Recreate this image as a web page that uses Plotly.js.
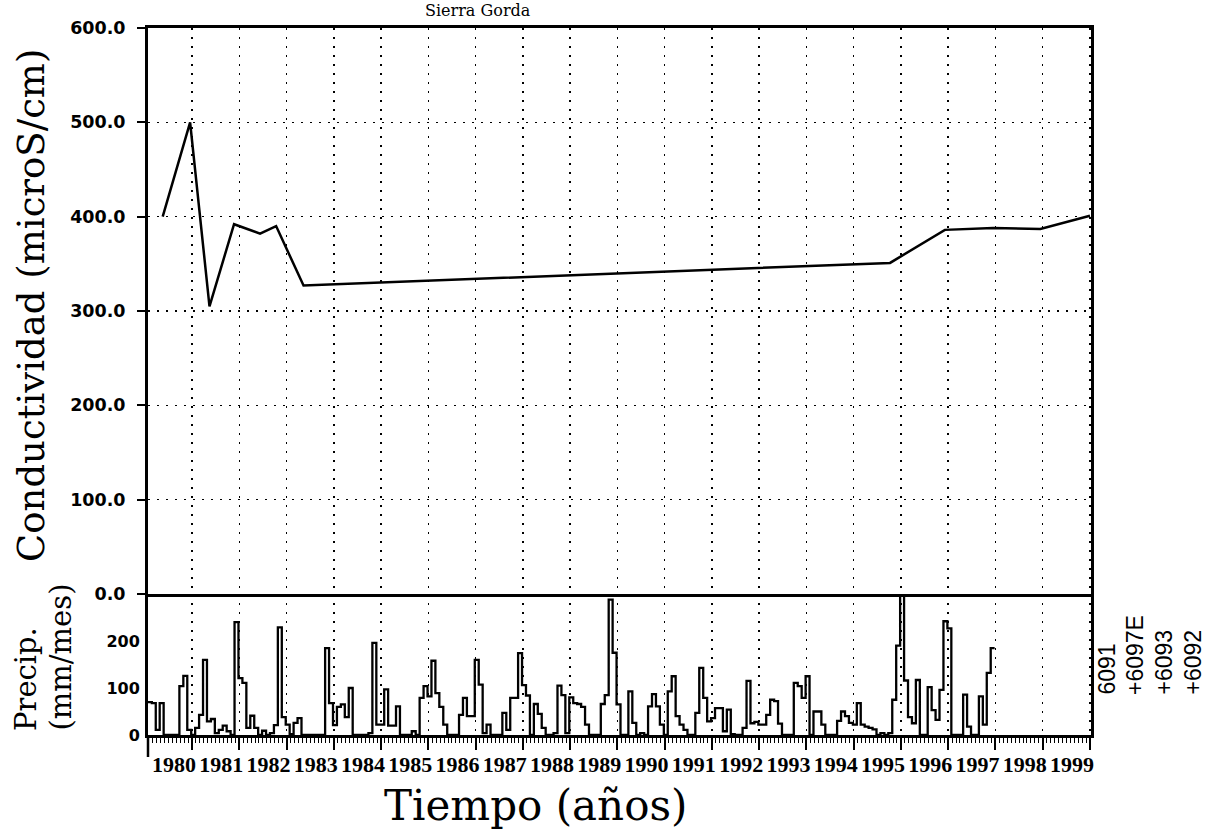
<!DOCTYPE html>
<html><head><meta charset="utf-8">
<script src="https://cdn.plot.ly/plotly-3.0.1.min.js"></script>
<style>body{margin:0;background:#fff}#chart{width:1209px;height:833px}</style>
</head><body><div id="chart"></div>
<script>
const chartTitle = 'Sierra Gorda';
const yTitleTop = 'Conductividad (microS/cm)';
const yTitleBottom1 = 'Precip.';
const yTitleBottom2 = '(mm/mes)';
const xTitle = 'Tiempo (años)';

// conductivity series (decimal years on the chart's own time axis)
const condYears  = [1979.38, 1979.96, 1980.37, 1980.89, 1981.44, 1981.78, 1982.36, 1994.77, 1995.93, 1996.95, 1997.95, 1999.0];
const condValues = [400, 500, 305, 392, 382, 390, 327, 351, 386, 388, 387, 401];

// monthly precipitation, first value = January 1979
const precipStartYear = 1979;
const precipValues = [
  70, 68, 11, 68, 0, 0, 0, 0, 104, 126, 11, 0,
  15, 43, 160, 29, 34, 4, 11, 20, 8, 0, 240, 121,
  111, 15, 41, 15, 0, 9, 0, 4, 21, 229, 38, 22,
  2, 26, 36, 0, 0, 0, 0, 0, 0, 185, 68, 21,
  60, 65, 38, 100, 0, 0, 0, 0, 4, 196, 22, 22,
  97, 20, 20, 61, 0, 0, 0, 8, 0, 79, 104, 82,
  158, 89, 60, 22, 0, 0, 0, 43, 79, 40, 40, 160,
  107, 4, 22, 0, 0, 0, 47, 11, 79, 79, 174, 106,
  84, 0, 66, 45, 15, 0, 0, 4, 105, 85, 4, 80,
  68, 66, 60, 22, 0, 0, 0, 66, 85, 288, 175, 65,
  0, 0, 93, 26, 0, 4, 0, 61, 87, 61, 22, 0,
  93, 125, 40, 22, 11, 0, 0, 47, 143, 79, 29, 36,
  57, 57, 8, 54, 2, 0, 0, 15, 115, 25, 28, 22,
  22, 43, 75, 72, 24, 0, 0, 0, 111, 104, 79, 125,
  0, 50, 50, 22, 0, 0, 0, 30, 50, 40, 26, 22,
  68, 22, 18, 15, 12, 0, 4, 0, 4, 75, 190, 300,
  116, 38, 25, 117, 0, 0, 102, 53, 32, 96, 242, 227,
  0, 0, 0, 86, 18, 0, 0, 82, 22, 132, 185
];

const yearTicks = [1980,1981,1982,1983,1984,1985,1986,1987,1988,1989,1990,1991,1992,1993,1994,1995,1996,1997,1998,1999];
const condTicks = [0,100,200,300,400,500,600];
const precipTicks = [0,100,200];
const stationLabels = ['6091', '+6097E', '+6093', '+6092'];

const monthOffset = 0.8;
const px = precipValues.map((v, i) => precipStartYear + (i + monthOffset) / 12);
const py = precipValues.slice();
px.push(precipStartYear + (precipValues.length + monthOffset) / 12);
py.push(precipValues[precipValues.length - 1]);

const W = 1209, H = 833;
const L = 148, R = 1091, T = 28, B = 735, MID = 594;
const xRange = [1979.069, 1999.022];
const splitFrac = (B - MID) / (B - T);
const toXp = x => (x - L) / (R - L);
const toYp = y => (B - y) / (B - T);

const gridDash = '2px,7px';
const serif = 'DejaVu Serif';

const traces = [
  {x: condYears, y: condValues, xaxis: 'x2', yaxis: 'y', mode: 'lines',
   line: {color: '#000', width: 2.5}, showlegend: false},
  {x: px, y: py, xaxis: 'x', yaxis: 'y2', mode: 'lines',
   line: {color: '#000', width: 2.3, shape: 'hv'}, showlegend: false}
];

const annotations = [
  {text: chartTitle, xref: 'paper', yref: 'paper', x: toXp(478), y: toYp(10),
   showarrow: false, xanchor: 'center', yanchor: 'middle',
   font: {family: serif, size: 16, color: '#000'}},
  {text: yTitleTop, xref: 'paper', yref: 'paper', x: toXp(31), y: toYp(306),
   textangle: -90, showarrow: false, xanchor: 'center', yanchor: 'middle',
   font: {family: serif, size: 37, color: '#000'}},
  {text: yTitleBottom1, xref: 'paper', yref: 'paper', x: toXp(26), y: toYp(733),
   textangle: -90, showarrow: false, xanchor: 'center', yanchor: 'bottom',
   font: {family: serif, size: 29, color: '#000'}},
  {text: yTitleBottom2, xref: 'paper', yref: 'paper', x: toXp(60), y: toYp(733),
   textangle: -90, showarrow: false, xanchor: 'center', yanchor: 'bottom',
   font: {family: serif, size: 29, color: '#000'}},
  {text: xTitle, xref: 'paper', yref: 'paper', x: toXp(535), y: toYp(805),
   showarrow: false, xanchor: 'center', yanchor: 'middle',
   font: {family: serif, size: 42, color: '#000'}}
];
const stationX = [1106, 1135, 1163, 1192];
stationLabels.forEach((s, i) => annotations.push({
  text: s, xref: 'paper', yref: 'paper', x: toXp(stationX[i]), y: toYp(697),
  textangle: -90, showarrow: false, xanchor: 'center', yanchor: 'bottom',
  font: {family: 'Liberation Sans', size: 23, color: '#000'}
}));

const layout = {
  width: W, height: H,
  margin: {l: L, r: W - R, t: T, b: H - B, pad: 0},
  paper_bgcolor: '#fff', plot_bgcolor: '#fff',
  showlegend: false,
  xaxis: {
    domain: [0, 1], anchor: 'y2', range: xRange,
    tickmode: 'array', tickvals: yearTicks, ticktext: yearTicks.map(String),
    ticks: 'outside', ticklen: 12, tickwidth: 2, tickcolor: '#000',
    ticklabelshift: -18, ticklabelstandoff: -4,
    tickfont: {family: 'Liberation Serif', size: 22, weight: 'bold', color: '#000'},
    showline: true, linewidth: 3, linecolor: '#000', mirror: false,
    showgrid: true, gridcolor: '#000', gridwidth: 1.5, griddash: gridDash,
    zeroline: false,
    minor: {tickmode: 'linear', tick0: precipStartYear, dtick: 1 / 12, ticks: 'outside',
            ticklen: 5, tickwidth: 1, tickcolor: '#000', showgrid: false}
  },
  xaxis2: {
    domain: [0, 1], anchor: 'y', matches: 'x', range: xRange,
    tickmode: 'array', tickvals: yearTicks, showticklabels: false, ticks: '',
    showline: true, linewidth: 3, linecolor: '#000', mirror: true,
    showgrid: true, gridcolor: '#000', gridwidth: 1.5, griddash: gridDash,
    zeroline: false
  },
  yaxis: {
    domain: [splitFrac, 1], anchor: 'x2', range: [0, 600],
    tickmode: 'array', tickvals: condTicks, tickformat: '.1f',
    ticks: 'outside', ticklen: 8, tickwidth: 2, tickcolor: '#000', ticklabelstandoff: 8,
    tickfont: {family: 'DejaVu Sans', size: 17.5, weight: 'bold', color: '#000'},
    showline: true, linewidth: 3, linecolor: '#000', mirror: true,
    showgrid: true, gridcolor: '#000', gridwidth: 1.5, griddash: gridDash,
    zeroline: false
  },
  yaxis2: {
    domain: [0, splitFrac], anchor: 'x', range: [0, 300],
    tickmode: 'array', tickvals: precipTicks, ticks: '', ticklabelstandoff: 2,
    tickfont: {family: 'DejaVu Sans', size: 16, weight: 'bold', color: '#000'},
    showline: true, linewidth: 3, linecolor: '#000', mirror: true,
    showgrid: false, zeroline: false
  },
  shapes: [
    {type: 'line', xref: 'paper', yref: 'paper', x0: 0, x1: 0, y0: 0, y1: -22 / (B - T),
     line: {color: '#000', width: 2.5}}
  ],
  annotations: annotations
};

Plotly.newPlot('chart', traces, layout, {staticPlot: true, displayModeBar: false});
</script>
</body></html>
